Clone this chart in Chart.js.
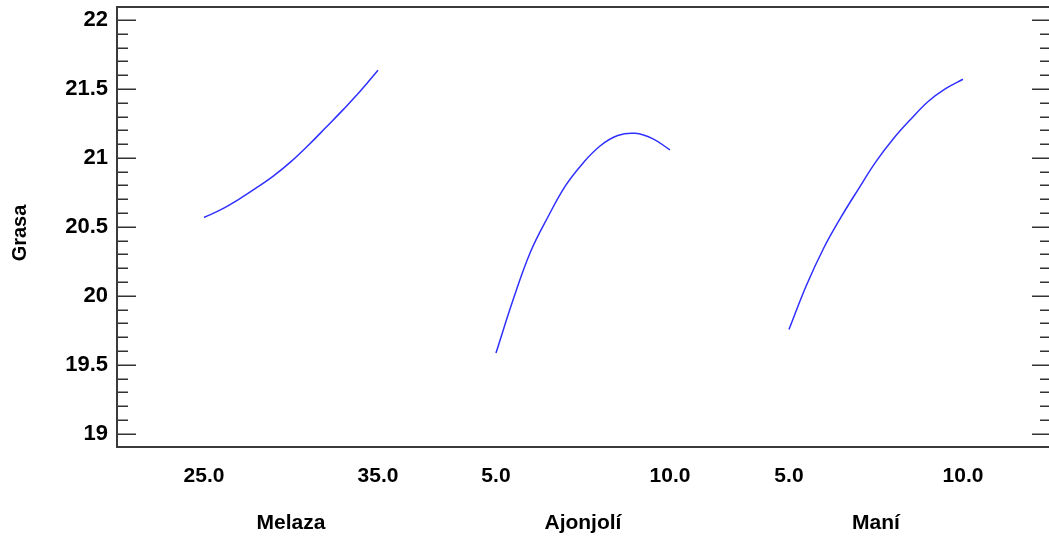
<!DOCTYPE html>
<html><head><meta charset="utf-8">
<style>html,body{margin:0;padding:0;overflow:hidden;background:#fff}#wrap{width:1052px;height:537px;position:relative}</style>
<script src="https://cdn.jsdelivr.net/npm/chart.js@4/dist/chart.umd.min.js"></script>
</head><body><div id="wrap"><canvas id="c" width="1052" height="537"></canvas></div>
<script>
// ---- data ----
const factorNames = ['Melaza', 'Ajonjolí', 'Maní'];
const melazaX = [25, 26, 27, 28, 29, 30, 31, 32, 33, 34, 35];
const melazaY = [20.568, 20.627, 20.700, 20.782, 20.870, 20.973, 21.092, 21.220, 21.350, 21.486, 21.636];
const ajonjoliX = [5, 5.5, 6, 6.5, 7, 7.5, 8, 8.5, 9, 9.5, 10];
const ajonjoliY = [19.585, 19.977, 20.323, 20.575, 20.799, 20.962, 21.088, 21.162, 21.178, 21.140, 21.058];
const maniX = [5, 5.5, 6, 6.5, 7, 7.5, 8, 8.5, 9, 9.5, 10];
const maniY = [19.756, 20.075, 20.347, 20.572, 20.776, 20.973, 21.139, 21.280, 21.409, 21.502, 21.570];
const factorRanges = [[25, 35], [5, 10], [5, 10]];
const xTickLabels = ['25.0', '35.0', '5.0', '10.0', '5.0', '10.0'];
const yTickValues = [19, 19.5, 20, 20.5, 21, 21.5, 22];
const yTickLabels = ['19', '19.5', '20', '20.5', '21', '21.5', '22'];
const yAxisTitle = 'Grasa';

// ---- layout of the three factor panels along one linear axis ----
const segOffset = [0, 1.678, 3.362];
function toPos(i, v) {
  const r = factorRanges[i];
  return segOffset[i] + (v - r[0]) / (r[1] - r[0]);
}
const xTickPositions = [];
factorRanges.forEach((r, i) => { xTickPositions.push(toPos(i, r[0]), toPos(i, r[1])); });

const series = [[melazaX, melazaY], [ajonjoliX, ajonjoliY], [maniX, maniY]];
const datasets = series.map((s, i) => ({
  label: factorNames[i],
  data: s[0].map((x, k) => ({ x: toPos(i, x), y: s[1][k] })),
  borderColor: '#2f2fff',
  borderWidth: 1.5,
  pointRadius: 0,
  tension: 0.4,
  fill: false
}));

const FONT = '"Liberation Sans", Arial, sans-serif';

const decor = {
  id: 'decor',
  afterDraw(chart) {
    const ctx = chart.ctx, a = chart.chartArea;
    const ys = chart.scales.y, xs = chart.scales.x;
    ctx.save();
    // ticks (inside, left and right)
    ctx.strokeStyle = '#333';
    ctx.lineWidth = 1.5;
    for (let k = 189; k <= 220; k++) {
      const v = k / 10;
      const y = Math.round(ys.getPixelForValue(v)) + 0.25;
      if (y <= a.top + 1 || y >= a.bottom - 1) continue;
      const major = (k % 5 === 0);
      ctx.beginPath();
      ctx.moveTo(a.left, y); ctx.lineTo(a.left + (major ? 19 : 11), y);
      ctx.moveTo(a.right, y); ctx.lineTo(a.right - (major ? 19 : 11), y);
      ctx.stroke();
    }
    // frame
    ctx.strokeStyle = '#3a3a3a';
    ctx.lineWidth = 2;
    ctx.strokeRect(a.left, a.top, a.right - a.left, a.bottom - a.top);
    // factor titles
    ctx.fillStyle = '#000';
    ctx.font = 'bold 21px ' + FONT;
    ctx.textAlign = 'center';
    ctx.textBaseline = 'alphabetic';
    factorNames.forEach((n, i) => {
      const r = factorRanges[i];
      const x = xs.getPixelForValue(toPos(i, (r[0] + r[1]) / 2));
      ctx.fillText(n, x, 529);
    });
    // y axis title
    ctx.translate(20, 233);
    ctx.rotate(-Math.PI / 2);
    ctx.font = 'bold 20px ' + FONT;
    ctx.textBaseline = 'middle';
    ctx.fillText(yAxisTitle, 0, 0);
    ctx.restore();
  }
};

new Chart(document.getElementById('c'), {
  type: 'line',
  data: { datasets },
  options: {
    responsive: false,
    animation: false,
    layout: { padding: { top: 7, right: 1, left: 0, bottom: 0 } },
    plugins: { legend: { display: false }, tooltip: { enabled: false } },
    scales: {
      x: {
        type: 'linear',
        min: -0.5,
        max: 4.868,
        grid: { display: false, drawTicks: false },
        border: { display: false },
        afterBuildTicks: s => { s.ticks = xTickPositions.map(v => ({ value: v })); },
        afterFit: s => { s.height = 90; s.paddingLeft = 0; s.paddingRight = 0; },
        ticks: {
          autoSkip: false, maxRotation: 0, padding: 17, color: '#000',
          font: { family: FONT, size: 21, weight: 'bold' },
          callback: (v, i) => xTickLabels[i]
        }
      },
      y: {
        min: 18.904,
        max: 22.094,
        grid: { display: false, drawTicks: false },
        border: { display: false },
        afterBuildTicks: s => { s.ticks = yTickValues.map(v => ({ value: v })); },
        afterFit: s => { s.width = 117; s.paddingTop = 0; s.paddingBottom = 0; },
        ticks: {
          padding: 9, color: '#000',
          font: { family: FONT, size: 22, weight: 'bold' },
          callback: (v, i) => yTickLabels[i]
        }
      }
    }
  },
  plugins: [decor]
});
</script>
</body></html>
